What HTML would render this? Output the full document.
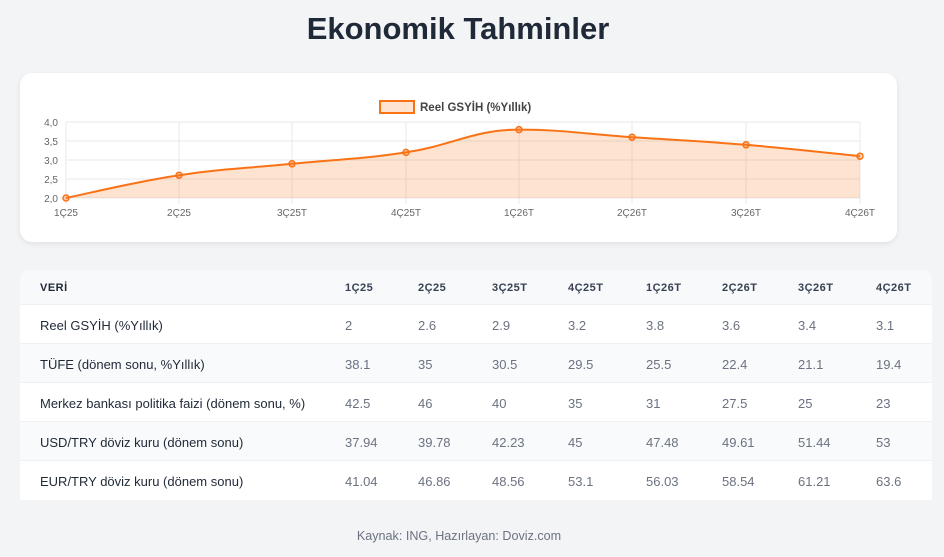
<!DOCTYPE html>
<html><head><meta charset="utf-8"><style>
*{margin:0;padding:0;box-sizing:border-box}
body{width:944px;height:557px;background:#f3f4f6;font-family:"Liberation Sans","DejaVu Sans",sans-serif;position:relative;overflow:hidden}
h1{position:absolute;top:11px;left:0;width:916px;text-align:center;font-size:31px;font-weight:bold;color:#1f2937}
.card{position:absolute;left:20px;top:73px;width:877px;height:169px;background:#fff;border-radius:12px;box-shadow:0 2px 6px rgba(0,0,0,.08)}
svg{position:absolute;left:0;top:0}
.tbl{position:absolute;left:20px;top:270px;width:912px;background:#fff;border-radius:10px 10px 0 0;overflow:hidden}
.row{height:39px;position:relative;font-size:13px;color:#6b7280;border-bottom:1px solid #eef0f3}
.row span{position:absolute;top:1px;line-height:39px}
.row span.l{left:20px;color:#1f2937}
.hd{height:35px;background:#f8f9fb;font-size:11px;font-weight:bold;color:#374151;letter-spacing:.5px}
.hd span{line-height:35px;color:#374151}
.g{background:#f9fafb}
.foot{position:absolute;top:529px;width:918px;text-align:center;font-size:12.6px;color:#6b7280}
</style></head><body>
<h1>Ekonomik Tahminler</h1>
<div class="card"></div>
<svg width="944" height="260" font-family="Liberation Sans, sans-serif">
<g stroke="#e8e8ec" stroke-width="1">
<line x1="66" y1="122" x2="860" y2="122"/><line x1="66" y1="141" x2="860" y2="141"/><line x1="66" y1="160" x2="860" y2="160"/><line x1="66" y1="179" x2="860" y2="179"/><line x1="60" y1="198" x2="860" y2="198"/>
<line x1="66" y1="122" x2="66" y2="204"/><line x1="179" y1="122" x2="179" y2="204"/><line x1="292" y1="122" x2="292" y2="204"/><line x1="406" y1="122" x2="406" y2="204"/><line x1="519" y1="122" x2="519" y2="204"/><line x1="632" y1="122" x2="632" y2="204"/><line x1="746" y1="122" x2="746" y2="204"/><line x1="860" y1="122" x2="860" y2="204"/>
</g>
<g font-size="10" fill="#666" text-anchor="end">
<text x="58" y="126">4,0</text><text x="58" y="145">3,5</text><text x="58" y="164">3,0</text><text x="58" y="183">2,5</text><text x="58" y="202">2,0</text>
</g>
<g font-size="10" fill="#666" text-anchor="middle">
<text x="66" y="216">1Ç25</text><text x="179" y="216">2Ç25</text><text x="292" y="216">3Ç25T</text><text x="406" y="216">4Ç25T</text><text x="519" y="216">1Ç26T</text><text x="632" y="216">2Ç26T</text><text x="746" y="216">3Ç26T</text><text x="860" y="216">4Ç26T</text>
</g>
<path d="M66,198 C88.6,193.4 133.8,182 179,175.2 C224.2,168.4 246.6,168.4 292,163.8 C337.4,159.2 360.6,159.2 406,152.4 C451.4,145.6 473.8,129.6 519,129.6 C564,129.6 586.6,134.2 632,137.2 C677.4,140.2 700.4,141 746,144.8 C791.6,148.6 837.2,153.9 860,156.2 L860,198 L66,198Z" fill="rgba(249,115,22,0.2)"/>
<path d="M66,198 C88.6,193.4 133.8,182 179,175.2 C224.2,168.4 246.6,168.4 292,163.8 C337.4,159.2 360.6,159.2 406,152.4 C451.4,145.6 473.8,129.6 519,129.6 C564,129.6 586.6,134.2 632,137.2 C677.4,140.2 700.4,141 746,144.8 C791.6,148.6 837.2,153.9 860,156.2" fill="none" stroke="#f97316" stroke-width="2"/>
<g fill="rgba(249,115,22,0.3)" stroke="#f97316" stroke-width="1.5">
<circle cx="66" cy="198" r="3"/><circle cx="179" cy="175.2" r="3"/><circle cx="292" cy="163.8" r="3"/><circle cx="406" cy="152.4" r="3"/><circle cx="519" cy="129.6" r="3"/><circle cx="632" cy="137.2" r="3"/><circle cx="746" cy="144.8" r="3"/><circle cx="860" cy="156.2" r="3"/>
</g>
<rect x="380" y="101" width="34" height="12" fill="rgba(249,115,22,0.2)" stroke="#f97316" stroke-width="2"/>
<text x="420" y="111" font-size="11.5" font-weight="bold" fill="#444">Reel GSYİH (%Yıllık)</text>
</svg>
<div class="tbl">
<div class="row hd"><span class="l">VERİ</span><span style="left:325px">1Ç25</span><span style="left:398px">2Ç25</span><span style="left:472px">3Ç25T</span><span style="left:548px">4Ç25T</span><span style="left:626px">1Ç26T</span><span style="left:702px">2Ç26T</span><span style="left:778px">3Ç26T</span><span style="left:856px">4Ç26T</span></div>
<div class="row"><span class="l">Reel GSYİH (%Yıllık)</span><span style="left:325px">2</span><span style="left:398px">2.6</span><span style="left:472px">2.9</span><span style="left:548px">3.2</span><span style="left:626px">3.8</span><span style="left:702px">3.6</span><span style="left:778px">3.4</span><span style="left:856px">3.1</span></div>
<div class="row g"><span class="l">TÜFE (dönem sonu, %Yıllık)</span><span style="left:325px">38.1</span><span style="left:398px">35</span><span style="left:472px">30.5</span><span style="left:548px">29.5</span><span style="left:626px">25.5</span><span style="left:702px">22.4</span><span style="left:778px">21.1</span><span style="left:856px">19.4</span></div>
<div class="row"><span class="l">Merkez bankası politika faizi (dönem sonu, %)</span><span style="left:325px">42.5</span><span style="left:398px">46</span><span style="left:472px">40</span><span style="left:548px">35</span><span style="left:626px">31</span><span style="left:702px">27.5</span><span style="left:778px">25</span><span style="left:856px">23</span></div>
<div class="row g"><span class="l">USD/TRY döviz kuru (dönem sonu)</span><span style="left:325px">37.94</span><span style="left:398px">39.78</span><span style="left:472px">42.23</span><span style="left:548px">45</span><span style="left:626px">47.48</span><span style="left:702px">49.61</span><span style="left:778px">51.44</span><span style="left:856px">53</span></div>
<div class="row" style="border-bottom:none"><span class="l">EUR/TRY döviz kuru (dönem sonu)</span><span style="left:325px">41.04</span><span style="left:398px">46.86</span><span style="left:472px">48.56</span><span style="left:548px">53.1</span><span style="left:626px">56.03</span><span style="left:702px">58.54</span><span style="left:778px">61.21</span><span style="left:856px">63.6</span></div>
</div>
<div class="foot">Kaynak: ING, Hazırlayan: Doviz.com</div>
</body></html>
